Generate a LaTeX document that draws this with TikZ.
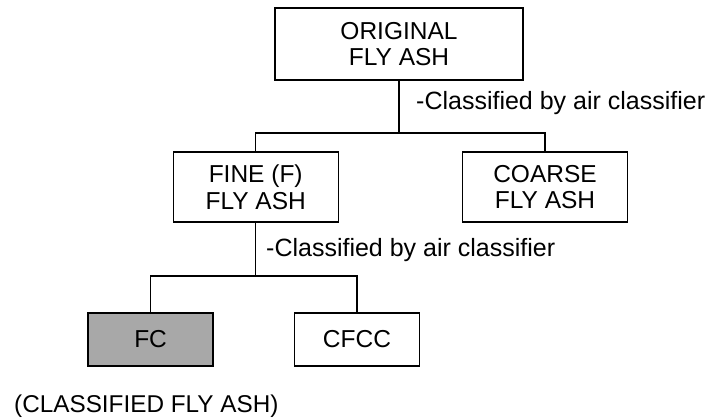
\documentclass[tikz,border=0pt]{standalone}
\usepackage{fontspec}
\setmainfont{Liberation Sans}
\definecolor{fcgray}{RGB}{168,168,168}
\begin{document}
\begin{tikzpicture}[x=1pt,y=-1pt,
  box/.style={draw=black, line width=1.3pt, fill=white, inner sep=0pt, align=center,
    font=\fontsize{24.5}{26.5}\selectfont},
  lbl/.style={inner sep=0pt, anchor=base west, font=\fontsize{25}{30}\selectfont},
  conn/.style={draw=black, line width=1.2pt}]
\useasboundingbox (0,0) rectangle (712,419);
\node[box, minimum width=248pt, minimum height=72pt] (orig) at (399,44) {ORIGINAL\\FLY ASH};
\node[box, minimum width=165pt, minimum height=70pt] (fine) at (255.7,187) {FINE (F)\\FLY ASH};
\node[box, minimum width=165pt, minimum height=70pt] (coarse) at (545,187) {COARSE\\FLY ASH};
\node[box, fill=fcgray, minimum width=125pt, minimum height=53pt] (fc) at (150.6,339.5) {FC};
\node[box, minimum width=125pt, minimum height=53pt] (cfcc) at (357,339.5) {CFCC};
\coordinate (j1) at (orig.south |- 0,133);
\coordinate (j2) at (fine.south |- 0,276);
\draw[conn] (orig.south) -- (j1);
\draw[conn] (fine.north) |- (j1) -| (coarse.north);
\draw[conn] (fine.south) -- (j2);
\draw[conn] (fc.north) |- (j2) -| (cfcc.north);
\node[lbl] (l1) at (416,110) {-Classified by air classifier};
\node[lbl] (l2) at (266,256.5) {-Classified by air classifier};
\node[lbl, font=\fontsize{24.3}{30}\selectfont] (l3) at (14,413) {(CLASSIFIED FLY ASH)};
\end{tikzpicture}
\end{document}
